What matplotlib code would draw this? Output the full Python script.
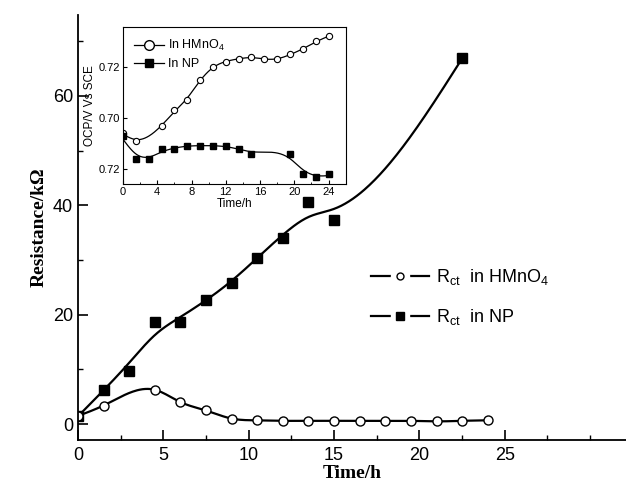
import numpy as np
import matplotlib
matplotlib.use("Agg")
import matplotlib.pyplot as plt
from matplotlib.lines import Line2D
from matplotlib.legend_handler import HandlerTuple
from matplotlib.ticker import MultipleLocator

plt.rcParams['font.family'] = ['Liberation Sans', 'DejaVu Sans']
plt.rcParams['mathtext.fontset'] = 'custom'
plt.rcParams['mathtext.rm'] = 'Liberation Sans'

# main plot: charge-transfer resistance (kOhm) vs time (h)
t_hmno4 = [0, 1.5, 4.5, 6, 7.5, 9, 10.5, 12, 13.5, 15, 16.5, 18, 19.5, 21, 22.5, 24]
r_hmno4 = [1.5, 3.4, 6.3, 4.0, 2.5, 1.0, 0.7, 0.6, 0.6, 0.6, 0.6, 0.6, 0.6, 0.5, 0.6, 0.7]
t_np = [0, 1.5, 3, 4.5, 6, 7.5, 9, 10.5, 12, 13.5, 15, 22.5]
r_np = [1.5, 6.3, 9.8, 18.6, 18.6, 22.7, 25.8, 30.4, 34.0, 40.6, 37.3, 67.0]

# inset: OCP vs time
ti_hmno4 = [0, 1.5, 4.5, 6, 7.5, 9, 10.5, 12, 13.5, 15, 16.5, 18, 19.5, 21, 22.5, 24]
ocp_hmno4 = [0.694, 0.691, 0.697, 0.703, 0.707, 0.715, 0.720, 0.722, 0.723, 0.724,
             0.723, 0.723, 0.725, 0.727, 0.730, 0.732]
ti_np = [0, 1.5, 3, 4.5, 6, 7.5, 9, 10.5, 12, 13.5, 15, 19.5, 21, 22.5, 24]
ocp_np = [0.693, 0.684, 0.684, 0.688, 0.688, 0.689, 0.689, 0.689, 0.689, 0.688,
          0.686, 0.686, 0.678, 0.677, 0.678]
inset_yticks = [0.72, 0.70, 0.68]
inset_yticklabels = ['0.72', '0.70', '0.72']


def smooth(x, y, lam, n=300):
    # penalised smoothing on a fine grid, only used to draw the connecting curve
    x = np.asarray(x, float)
    y = np.asarray(y, float)
    xs = np.linspace(x.min(), x.max(), n)
    h = xs[1] - xs[0]
    P = np.zeros((len(x), n))
    for i, xi in enumerate(x):
        j = min(int((xi - xs[0]) / h), n - 2)
        f = (xi - xs[j]) / h
        P[i, j] = 1 - f
        P[i, j + 1] = f
    D = np.diff(np.eye(n), 2, axis=0) / h ** 2
    A = P.T @ P + lam * D.T @ D * h
    f = np.linalg.solve(A, P.T @ y)
    return xs, f


fig = plt.figure(figsize=(6.26, 4.86), dpi=100)
ax = fig.add_axes([0.1246, 0.0947, 0.8754, 0.8745])

xs, ys = smooth(t_np, r_np, 1.2)
ax.plot(xs, ys, color='black', lw=1.6)
ax.plot(t_np, r_np, 's', color='black', ms=7, ls='none')
xs, ys = smooth(t_hmno4, r_hmno4, 0.01)
ax.plot(xs, ys, color='black', lw=1.6)
ax.plot(t_hmno4, r_hmno4, 'o', mfc='white', mec='black', mew=1.0, ms=6.5, ls='none')

ax.set_xlim(0, 32.1)
ax.set_ylim(-2.9, 74.8)
ax.xaxis.set_minor_locator(MultipleLocator(2.5))
ax.yaxis.set_major_locator(MultipleLocator(20))
ax.yaxis.set_minor_locator(MultipleLocator(10))
ax.set_xticks([0, 5, 10, 15, 20, 25])
ax.spines['top'].set_visible(False)
ax.spines['right'].set_visible(False)
ax.spines['left'].set_linewidth(1.3)
ax.spines['bottom'].set_linewidth(1.3)
ax.tick_params(which='major', direction='in', length=7, width=1.2, labelsize=13)
ax.tick_params(which='minor', direction='in', length=3.5, width=1.0)
ax.tick_params(axis='x', pad=5)
ax.set_xlabel('Time/h', fontfamily='Liberation Serif', fontweight='bold', fontsize=14,
              labelpad=1)
ax.set_ylabel('Resistance/k\u03a9', fontfamily='Liberation Serif', fontweight='bold', fontsize=14)

# legend handles: line, white patch to open a gap round the marker, marker
line = Line2D([], [], color='black', lw=1.6)
h1 = (line,
      Line2D([], [], ls='none', marker='o', mfc='white', mec='white', ms=13),
      Line2D([], [], ls='none', marker='o', mfc='white', mec='black', ms=5))
h2 = (line,
      Line2D([], [], ls='none', marker='s', mfc='white', mec='white', ms=13),
      Line2D([], [], ls='none', marker='s', color='black', ms=6))
ax.legend([h1, h2], ['R$_{\\mathrm{ct}}$  in HMnO$_4$', 'R$_{\\mathrm{ct}}$  in NP'],
          handler_map={tuple: HandlerTuple(ndivide=1, pad=0)},
          loc='upper left', bbox_to_anchor=(0.505, 0.445), frameon=False, fontsize=13,
          handlelength=3.2, handletextpad=0.4, labelspacing=1.1)

# inset
ins = fig.add_axes([0.1965, 0.6214, 0.3557, 0.3237])
xs, ys = smooth(ti_hmno4, ocp_hmno4, 0.3)
ins.plot(xs, ys, color='black', lw=0.9)
ins.plot(ti_hmno4, ocp_hmno4, 'o', mfc='white', mec='black', mew=0.8, ms=4.5, ls='none')
xs, ys = smooth(ti_np, ocp_np, 0.8)
ins.plot(xs, ys, color='black', lw=0.9)
ins.plot(ti_np, ocp_np, 's', color='black', ms=4.5, ls='none')
ins.set_xlim(0, 26)
ins.set_ylim(0.6741, 0.7358)
ins.set_xticks([0, 4, 8, 12, 16, 20, 24])
ins.xaxis.set_minor_locator(MultipleLocator(2))
ins.set_yticks(inset_yticks)
ins.set_yticklabels(inset_yticklabels)
ins.tick_params(which='both', direction='in', labelsize=8, pad=2)
ins.tick_params(which='major', length=3)
ins.tick_params(which='minor', length=1.5)
ins.set_xlabel('Time/h', fontsize=8.5, labelpad=1)
ins.set_ylabel('OCP/V Vs SCE', fontsize=8.5, labelpad=2)
ins.legend([Line2D([], [], color='black', lw=0.9, marker='o', mfc='white', mec='black', ms=7),
            Line2D([], [], color='black', lw=0.9, marker='s', ms=6)],
           ['In HMnO$_4$', 'In NP'], loc='upper left', frameon=False, fontsize=9,
           handlelength=2.4, handletextpad=0.3, labelspacing=0.4,
           bbox_to_anchor=(0.0, 1.0))

fig.savefig('out.png', dpi=100)
